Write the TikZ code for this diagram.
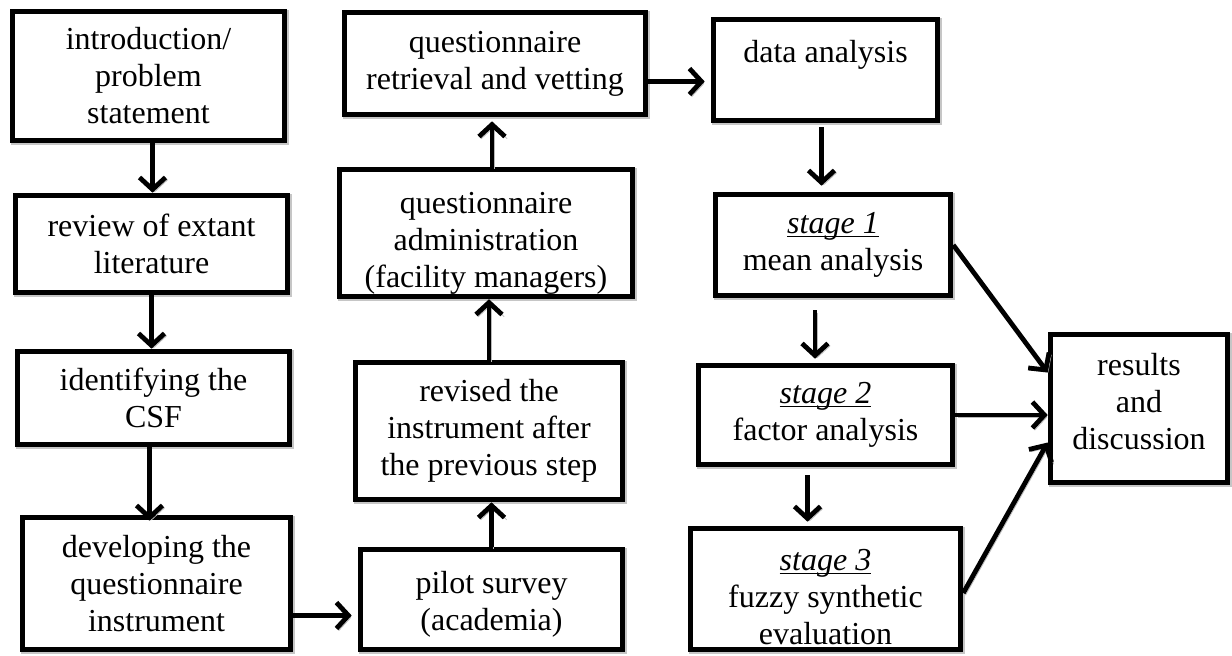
\documentclass[tikz,border=0pt]{standalone}
\usepackage{fontspec}
\setmainfont{Liberation Serif}
\usetikzlibrary{arrows.meta}
\newcommand{\stagelabel}[1]{\underline{\raisebox{0pt}[\height][0pt]{\textit{#1}}}}
\begin{document}
\begin{tikzpicture}[x=0.5pt,y=-0.5pt,
  box/.style={draw,line width=2.8pt,fill=white,align=center,inner sep=1pt,
    font=\fontsize{16}{18.5}\selectfont,
    preaction={draw=gray!45,line width=2.8pt,transform canvas={shift={(0.7pt,-0.7pt)}}}},
  arr/.style={line width=2.4pt,-{Straight Barb[length=6pt,width=13pt]},
    preaction={draw=gray!55,transform canvas={shift={(1.1pt,-1.1pt)}}}}]
  \useasboundingbox (0,0) rectangle (1232,655);
  \node[box,minimum width=136pt,minimum height=64.5pt] (intro) at (148.5,76) {introduction/\\problem\\statement};
  \node[box,minimum width=136pt,minimum height=48.5pt] (review) at (151.5,244) {review of extant\\literature};
  \node[box,minimum width=136pt,minimum height=46.5pt] (csf) at (153.5,398) {identifying the\\CSF};
  \node[box,minimum width=134pt,minimum height=66pt] (develop) at (156.5,583.5) {developing the\\questionnaire\\instrument};
  \node[box,minimum width=131pt,minimum height=50pt] (pilot) at (491.5,599.5) {\rule{0pt}{16pt}pilot survey\\(academia)};
  \node[box,minimum width=133.5pt,minimum height=68.5pt] (revised) at (489,431) {revised the\\instrument after\\the previous step};
  \node[box,minimum width=146.5pt,minimum height=62.5pt] (admin) at (486,233) {\rule{0pt}{21pt}questionnaire\\administration\\(facility managers)};
  \node[box,minimum width=150.5pt,minimum height=51pt] (retrieval) at (495,63.5) {questionnaire\\retrieval and vetting};
  \node[box,minimum width=112pt,minimum height=50.5pt] (data) at (825.5,70) {data analysis\\~};
  \node[box,minimum width=117.5pt,minimum height=50.5pt] (stage1) at (833,245) {\stagelabel{stage 1}\\mean analysis};
  \node[box,minimum width=127pt,minimum height=49.5pt] (stage2) at (825.5,415) {\stagelabel{stage 2}\\factor analysis};
  \node[box,minimum width=135pt,minimum height=60.5pt] (stage3) at (825.5,589) {\rule{0pt}{19pt}\stagelabel{stage 3}\\fuzzy synthetic\\evaluation};
  \node[box,minimum width=88.5pt,minimum height=74pt] (results) at (1139,408.5) {results\\and\\discussion\\[-11.5pt]~};

  \draw[arr] ([xshift=2pt]intro.south) -- ([xshift=2pt]intro.south |- review.north);
  \draw[arr] (review.south) -- (review.south |- csf.north);
  \draw[arr] ([xshift=-2pt]csf.south) -- ([xshift=-2pt,yshift=-3pt]csf.south |- develop.north);
  \draw[arr,shorten >=3pt] ([yshift=-16pt]develop.east) -- ([yshift=-16pt]develop.east -| pilot.west);
  \draw[arr] (pilot.north) -- (pilot.north |- revised.south);
  \draw[arr] (revised.north) -- (revised.north |- admin.south);
  \draw[arr] ([xshift=3pt]admin.north) -- ([xshift=3pt,yshift=-2pt]admin.north |- retrieval.south);
  \draw[arr,shorten >=3pt] ([yshift=-9pt]retrieval.east) -- ([yshift=-9pt]retrieval.east -| data.west);
  \draw[arr,shorten <=2pt,shorten >=3pt] ([xshift=-2pt]data.south) -- ([xshift=-2pt]data.south |- stage1.north);
  \draw[arr,shorten <=6pt,shorten >=2pt] ([xshift=-9pt]stage1.south) -- ([xshift=-9pt]stage1.south |- stage2.north);
  \draw[arr,shorten <=4pt,shorten >=2pt] ([xshift=-9pt]stage2.south) -- ([xshift=-9pt]stage2.south |- stage3.north);
  \draw[arr] (stage1.east) -- ([yshift=18pt]results.west);
  \draw[arr] (stage2.east) -- (stage2.east -| results.west);
  \draw[arr] ([yshift=-2pt]stage3.east) -- ([yshift=-17pt]results.west);
\end{tikzpicture}
\end{document}
